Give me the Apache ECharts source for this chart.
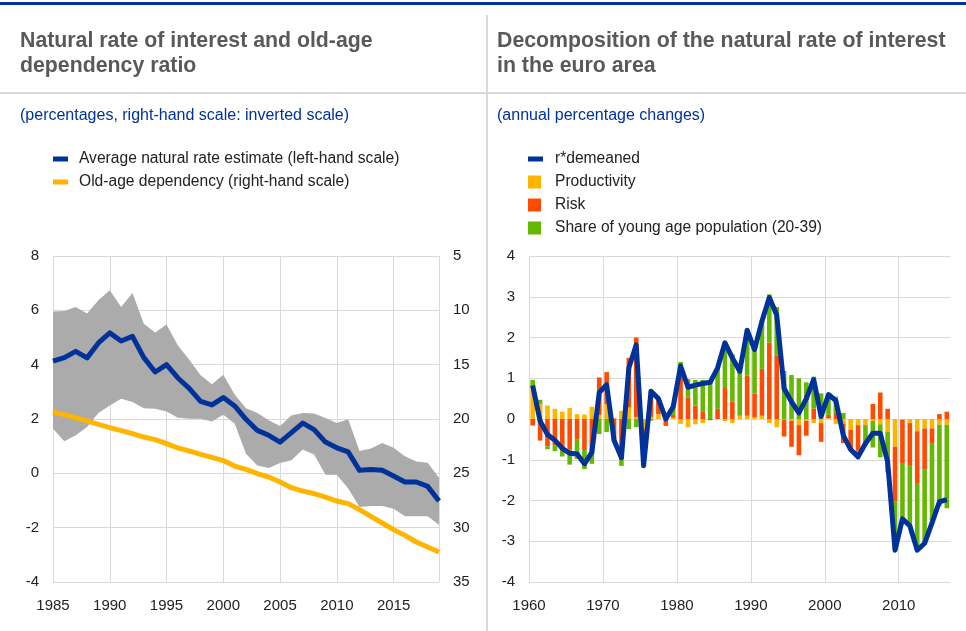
<!DOCTYPE html>
<html><head><meta charset="utf-8">
<script src="https://cdn.jsdelivr.net/npm/echarts@6/dist/echarts.min.js"></script>
<style>html,body{margin:0;padding:0;background:#fff}#c{width:966px;height:631px}</style>
</head><body><div id="c"></div>
<script>
// ---------- Left chart data ----------
const leftYears = [1985,1986,1987,1988,1989,1990,1991,1992,1993,1994,1995,1996,1997,1998,1999,2000,2001,2002,2003,2004,2005,2006,2007,2008,2009,2010,2011,2012,2013,2014,2015,2016,2017,2018,2019];
const naturalRate = [4.13,4.26,4.49,4.25,4.80,5.17,4.87,5.04,4.26,3.73,4.00,3.51,3.13,2.65,2.52,2.79,2.48,1.99,1.58,1.40,1.15,1.50,1.85,1.61,1.15,0.94,0.79,0.11,0.14,0.11,-0.10,-0.32,-0.32,-0.48,-1.02];
const bandUpper = [5.96,5.98,6.12,5.88,6.37,6.74,6.12,6.64,5.51,5.18,5.48,4.71,4.18,3.61,3.28,3.63,2.90,2.40,2.22,1.95,1.74,2.13,2.22,2.20,2.04,1.85,1.99,0.82,0.91,1.12,0.94,0.63,0.44,0.39,-0.16];
const bandLower = [1.64,1.18,1.40,1.71,2.22,2.50,2.75,2.63,2.40,2.38,2.28,2.05,2.01,2.01,1.91,2.16,1.83,0.72,0.29,0.20,0.38,0.48,0.88,0.69,-0.05,-0.05,-0.56,-1.24,-1.20,-1.20,-1.30,-1.58,-1.58,-1.58,-1.89];
const oldAgeDependency = [19.36,19.60,19.88,20.18,20.49,20.80,21.07,21.35,21.66,21.90,22.27,22.67,22.94,23.25,23.53,23.83,24.33,24.63,25.03,25.34,25.80,26.32,26.63,26.87,27.18,27.55,27.79,28.34,28.96,29.57,30.18,30.71,31.32,31.78,32.24];
const leftYTicks = [-4, 8, 2];     // min, max, step (left-hand scale)
const rightYTicks = [5, 35, 5];    // min, max, step (right-hand, inverted)

// ---------- Right chart data ----------
const rightYears = [1960,1961,1962,1963,1964,1965,1966,1967,1968,1969,1970,1971,1972,1973,1974,1975,1976,1977,1978,1979,1980,1981,1982,1983,1984,1985,1986,1987,1988,1989,1990,1991,1992,1993,1994,1995,1996,1997,1998,1999,2000,2001,2002,2003,2004,2005,2006,2007,2008,2009,2010,2011,2012,2013,2014,2015,2016];
const rStarDemeaned = [0.82,-0.05,-0.38,-0.52,-0.72,-0.84,-0.86,-1.10,-0.82,0.65,0.84,-0.52,-0.95,1.25,1.82,-1.15,0.68,0.50,0.00,0.30,1.30,0.78,0.83,0.87,0.90,1.25,1.87,1.50,1.17,2.18,1.70,2.40,2.98,2.55,0.75,0.42,0.15,0.50,0.97,0.06,0.60,0.45,-0.40,-0.75,-0.93,-0.60,-0.35,-0.35,-1.05,-3.22,-2.45,-2.62,-3.22,-3.05,-2.55,-2.03,-1.98];
const productivity = [0.80,0.37,0.33,0.25,0.18,0.27,0.12,0.11,0.30,0.10,0.37,0.03,0.20,0.28,0.05,-0.25,0.05,0.12,0.04,0.03,-0.12,-0.20,-0.13,-0.10,0.00,0.00,-0.05,-0.10,0.08,0.08,0.04,0.08,-0.10,-0.20,-0.02,-0.04,-0.15,-0.04,-0.10,-0.10,0.02,-0.12,-0.12,-0.27,-0.15,-0.15,-0.05,-0.13,-0.31,-0.68,-0.02,-0.10,-0.30,-0.23,-0.23,-0.14,-0.14];
const risk = [-0.16,-0.53,-0.67,-0.65,-0.78,-0.74,-0.51,-0.76,-0.80,0.92,0.78,-0.45,-0.75,1.22,1.95,-0.50,0.66,0.38,-0.17,0.07,1.18,0.53,0.33,0.19,-0.03,0.25,0.76,0.43,0.00,0.98,0.58,1.15,1.88,1.55,-0.41,-0.64,-0.74,-0.37,0.26,-0.46,0.08,0.15,-0.47,-0.50,-0.63,0.00,0.37,0.65,0.25,-1.35,-1.08,-1.05,-1.27,-1.00,-0.36,0.12,0.18];
const youngShare = [0.16,0.10,-0.07,-0.14,-0.14,-0.38,-0.47,-0.47,-0.30,-0.37,-0.32,-0.10,-0.40,-0.25,-0.20,-0.40,-0.04,0.00,0.10,0.20,0.22,0.45,0.63,0.77,0.95,0.97,1.14,1.16,1.10,1.14,1.09,1.15,1.18,1.20,1.18,1.08,1.00,0.90,0.78,0.63,0.53,0.40,0.15,0.00,-0.12,-0.49,-0.65,-0.81,-1.00,-1.19,-1.32,-1.45,-1.65,-1.83,-1.90,-2.00,-2.05];
const decompYTicks = [-4, 4, 1];

const bandWidth = bandUpper.map((u, i) => +(u - bandLower[i]).toFixed(3));

const FONT = 'Liberation Sans, Arial, sans-serif';
const GRID = '#d9d9d9';
const BLUE = '#003299', YEL = '#FFB400', RED = '#FF4B00', GRN = '#65B800';
const labelStyle = {color: '#222', fontSize: 15, fontFamily: FONT};
const plain = v => String(v);

const hiddenCat = (grid, data, gap) => ({type: 'category', gridIndex: grid, data: data.map(String), boundaryGap: gap, show: false,
  position: 'bottom', axisLine: {show: false}, axisTick: {show: false}, axisLabel: {show: false}, splitLine: {show: false}});
const labelAxis = (grid, min, max, step, showMaxLine) => ({type: 'value', gridIndex: grid, min: min, max: max, interval: step,
  position: 'bottom', axisLine: {show: false}, axisTick: {show: false},
  axisLabel: Object.assign({margin: 16, showMaxLabel: false, formatter: plain}, labelStyle),
  splitLine: {show: true, showMaxLine: showMaxLine, lineStyle: {color: GRID, width: 1}}});

const legendText = pad => ({fontSize: 15.6, lineHeight: 16, color: '#222', fontFamily: FONT, padding: [0, 0, 0, pad]});

const chart = echarts.init(document.getElementById('c'), null, {renderer: 'canvas'});
chart.setOption({
  animation: false,
  backgroundColor: '#fff',
  textStyle: {fontFamily: FONT},
  grid: [
    {left: 53, right: 527, top: 256, bottom: 49},
    {left: 529, right: 15.5, top: 256, bottom: 49}
  ],
  xAxis: [
    hiddenCat(0, leftYears, false),
    labelAxis(0, leftYears[0], leftYears[leftYears.length - 1], 5, true),
    hiddenCat(1, rightYears, true),
    labelAxis(1, rightYears[0], rightYears[rightYears.length - 1] + 1, 10, false)
  ],
  yAxis: [
    {type: 'value', gridIndex: 0, min: leftYTicks[0], max: leftYTicks[1], interval: leftYTicks[2],
     axisLine: {show: false}, axisTick: {show: false},
     axisLabel: Object.assign({margin: 14}, labelStyle),
     splitLine: {show: true, lineStyle: {color: GRID, width: 1}}},
    {type: 'value', gridIndex: 0, min: rightYTicks[0], max: rightYTicks[1], interval: rightYTicks[2], inverse: true, position: 'right',
     axisLine: {show: false}, axisTick: {show: false},
     axisLabel: Object.assign({margin: 14}, labelStyle),
     splitLine: {show: false}},
    {type: 'value', gridIndex: 1, min: decompYTicks[0], max: decompYTicks[1], interval: decompYTicks[2],
     axisLine: {show: false}, axisTick: {show: false},
     axisLabel: Object.assign({margin: 14}, labelStyle),
     splitLine: {show: true, lineStyle: {color: GRID, width: 1}}}
  ],
  legend: [
    {orient: 'vertical', left: 53, top: 151, padding: 0, itemGap: 7, itemWidth: 15, itemHeight: 5, icon: 'rect',
     data: ['Average natural rate estimate (left-hand scale)', 'Old-age dependency (right-hand scale)'],
     textStyle: legendText(6)},
    {orient: 'vertical', left: 528, top: 151, padding: 0, itemWidth: 15, itemHeight: 5, icon: 'rect',
     data: ['r*demeaned'], textStyle: legendText(7)},
    {orient: 'vertical', left: 528, top: 174, padding: 0, itemGap: 7, itemWidth: 13, itemHeight: 13, icon: 'rect',
     data: ['Productivity', 'Risk', 'Share of young age population (20-39)'], textStyle: legendText(9)}
  ],
  series: [
    {name: 'bandLower', type: 'line', xAxisIndex: 0, yAxisIndex: 0, stack: 'band', stackStrategy: 'all', symbol: 'none',
     lineStyle: {width: 0, opacity: 0}, data: bandLower, silent: true},
    {name: 'bandWidth', type: 'line', xAxisIndex: 0, yAxisIndex: 0, stack: 'band', stackStrategy: 'all', symbol: 'none',
     lineStyle: {width: 0, opacity: 0}, areaStyle: {color: '#ababab', opacity: 1}, data: bandWidth, silent: true},
    {name: 'Old-age dependency (right-hand scale)', type: 'line', xAxisIndex: 0, yAxisIndex: 1, symbol: 'none',
     color: YEL, lineStyle: {color: YEL, width: 5, join: 'round'}, data: oldAgeDependency},
    {name: 'Average natural rate estimate (left-hand scale)', type: 'line', xAxisIndex: 0, yAxisIndex: 0, symbol: 'none',
     color: BLUE, lineStyle: {color: BLUE, width: 5, join: 'round'}, data: naturalRate},

    {name: 'Productivity', type: 'bar', xAxisIndex: 2, yAxisIndex: 2, stack: 'dec', barWidth: 4.6,
     color: YEL, data: productivity},
    {name: 'Risk', type: 'bar', xAxisIndex: 2, yAxisIndex: 2, stack: 'dec', barWidth: 4.6,
     color: RED, data: risk},
    {name: 'Share of young age population (20-39)', type: 'bar', xAxisIndex: 2, yAxisIndex: 2, stack: 'dec', barWidth: 4.6,
     color: GRN, data: youngShare},
    {name: 'r*demeaned', type: 'line', xAxisIndex: 2, yAxisIndex: 2, symbol: 'none', z: 5,
     color: BLUE, lineStyle: {color: BLUE, width: 5, join: 'round'}, data: rStarDemeaned}
  ],
  graphic: [
    {type: 'rect', shape: {x: 0, y: 2, width: 966, height: 3}, style: {fill: BLUE}, silent: true},
    {type: 'rect', shape: {x: 0, y: 92, width: 966, height: 2}, style: {fill: '#d9d9d9'}, silent: true},
    {type: 'rect', shape: {x: 486, y: 15, width: 2, height: 616}, style: {fill: '#d9d9d9'}, silent: true},
    {type: 'text', left: 20, top: 29, style: {text: 'Natural rate of interest and old-age\ndependency ratio',
      font: 'bold 21.3px ' + FONT, fill: '#595959', lineHeight: 25}},
    {type: 'text', left: 497, top: 29, style: {text: 'Decomposition of the natural rate of interest\nin the euro area',
      font: 'bold 21.3px ' + FONT, fill: '#595959', lineHeight: 25}},
    {type: 'text', left: 20, top: 108, style: {text: '(percentages, right-hand scale: inverted scale)',
      font: '16px ' + FONT, fill: BLUE}},
    {type: 'text', left: 497, top: 108, style: {text: '(annual percentage changes)',
      font: '16px ' + FONT, fill: BLUE}}
  ]
});
</script></body></html>
